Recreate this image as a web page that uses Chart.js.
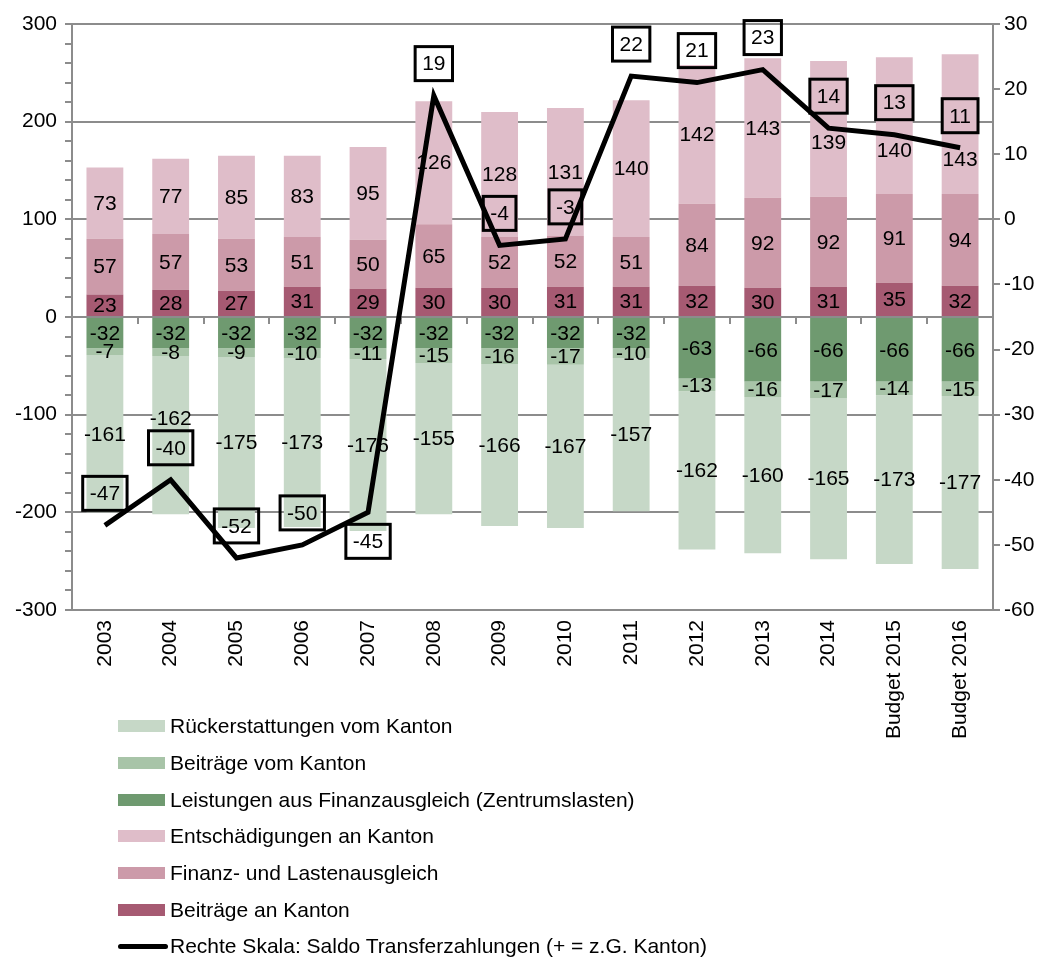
<!DOCTYPE html>
<html lang="de">

<head>
    <meta charset="UTF-8">
    <title>Transferzahlungen Kanton</title>
    <style>
        body {
            margin: 0;
            padding: 0;
            background-color: #fff;
            font-family: "Liberation Sans", Arial, sans-serif;
        }

        .wrap {
            position: relative;
            width: 1047px;
            height: 958px;
        }

        /* legend sits in the free space under the plot */
        .legend {
            position: absolute;
            left: 118px;
            top: 708px;
            font-size: 21px;
            color: #000;
        }

        .legend div {
            height: 36.7px;
            display: flex;
            align-items: center;
        }

        .legend span.sw {
            display: inline-block;
            width: 47px;
            height: 12px;
            margin-right: 5px;
        }

        .legend span.ln {
            display: inline-block;
            width: 50px;
            height: 5px;
            border-radius: 3px;
            background: #000;
            margin-right: 2px;
        }
    </style>
</head>

<body>
    <div class="wrap">
        <canvas id="transfers" width="1047" height="958"></canvas>
        <div class="legend" id="legend"></div>
    </div>

    <script src="https://cdn.jsdelivr.net/npm/chart.js"></script>
    <script>
        // categories
        const years = ['2003', '2004', '2005', '2006', '2007', '2008', '2009', '2010', '2011', '2012', '2013', '2014', 'Budget 2015', 'Budget 2016'];

        // payments to the canton (positive, left scale)
        const beitraegeAn = [23, 28, 27, 31, 29, 30, 30, 31, 31, 32, 30, 31, 35, 32];
        const finanzLasten = [57, 57, 53, 51, 50, 65, 52, 52, 51, 84, 92, 92, 91, 94];
        const entschaedigungen = [73, 77, 85, 83, 95, 126, 128, 131, 140, 142, 143, 139, 140, 143];

        // payments from the canton (negative, left scale)
        const leistungenFA = [-32, -32, -32, -32, -32, -32, -32, -32, -32, -63, -66, -66, -66, -66];
        const beitraegeVom = [-7, -8, -9, -10, -11, -15, -16, -17, -10, -13, -16, -17, -14, -15];
        const rueckerstattungen = [-161, -162, -175, -173, -176, -155, -166, -167, -157, -162, -160, -165, -173, -177];

        // balance (right scale)
        const saldo = [-47, -40, -52, -50, -45, 19, -4, -3, 22, 21, 23, 14, 13, 11];

        const leftTicks = { min: -300, max: 300 };
        const rightTicks = { min: -60, max: 30, step: 10 };

        const FONT = '"Liberation Sans", Arial, sans-serif';
        const FS = 21;
        const GRID = '#8c8c8c';

        const series = [
            { label: 'Beiträge an Kanton', data: beitraegeAn, color: '#a65a72' },
            { label: 'Finanz- und Lastenausgleich', data: finanzLasten, color: '#cc9aa9' },
            { label: 'Entschädigungen an Kanton', data: entschaedigungen, color: '#dfbdc9' },
            { label: 'Leistungen aus Finanzausgleich (Zentrumslasten)', data: leistungenFA, color: '#6f9a70' },
            { label: 'Beiträge vom Kanton', data: beitraegeVom, color: '#a8c4a8' },
            { label: 'Rückerstattungen vom Kanton', data: rueckerstattungen, color: '#c6d8c7' }
        ];

        const datasets = series.map(s => ({
            type: 'bar',
            label: s.label,
            data: s.data,
            backgroundColor: s.color,
            borderWidth: 0,
            yAxisID: 'y',
            order: 1,
            barPercentage: 0.56,
            categoryPercentage: 1.0
        }));

        datasets.push({
            type: 'line',
            label: 'Rechte Skala: Saldo Transferzahlungen (+ = z.G. Kanton)',
            data: saldo,
            borderColor: '#000',
            borderWidth: 5,
            pointRadius: 0,
            tension: 0,
            yAxisID: 'y1',
            order: 0
        });

        // boxed labels of the balance line: above the point, except where the line climbs steeply
        function lineBoxes(chart) {
            const ctx = chart.ctx;
            const meta = chart.getDatasetMeta(chart.data.datasets.length - 1);
            const below = new Set(['2007']);
            ctx.font = FS + 'px ' + FONT;
            return meta.data.map((pt, i) => {
                const txt = String(saldo[i]);
                const cy = below.has(years[i]) ? pt.y + 29 : pt.y - 32;
                const w = ctx.measureText(txt).width + 14;
                const h = 34;
                return { txt, x: pt.x, y: cy, l: pt.x - w / 2, r: pt.x + w / 2, t: cy - h / 2, b: cy + h / 2 };
            });
        }

        function hitsSegment(rect, a, b) {
            const n = Math.ceil(Math.hypot(b.x - a.x, b.y - a.y));
            for (let k = 0; k <= n; k++) {
                const px = a.x + (b.x - a.x) * k / n;
                const py = a.y + (b.y - a.y) * k / n;
                if (px >= rect.l && px <= rect.r && py >= rect.t && py <= rect.b) return true;
            }
            return false;
        }

        function isClear(rect, boxes, pts) {
            for (const bx of boxes) {
                if (rect.l < bx.r + 2 && rect.r > bx.l - 2 && rect.t < bx.b + 2 && rect.b > bx.t - 2) return false;
            }
            const grown = { l: rect.l - 3, r: rect.r + 3, t: rect.t - 3, b: rect.b + 3 };
            for (let i = 0; i < pts.length - 1; i++) {
                if (hitsSegment(grown, pts[i], pts[i + 1])) return false;
            }
            return true;
        }

        // value labels inside bars, zero line with category ticks, boxed labels on the line
        const labelsPlugin = {
            id: 'labelsPlugin',
            beforeDatasetDraw(chart, args) {
                if (args.meta.type !== 'line') return;
                const ctx = chart.ctx;
                const area = chart.chartArea;
                const y0 = chart.scales.y.getPixelForValue(0);
                ctx.save();
                ctx.strokeStyle = GRID;
                ctx.lineWidth = 2;
                ctx.beginPath();
                ctx.moveTo(area.left, y0);
                ctx.lineTo(area.right, y0);
                const step = (area.right - area.left) / years.length;
                for (let i = 1; i < years.length; i++) {
                    const px = Math.round(area.left + step * i);
                    ctx.moveTo(px, y0);
                    ctx.lineTo(px, y0 + 7);
                }
                ctx.stroke();

                // bar values, nudged off the line and its boxes where they collide
                const boxes = lineBoxes(chart);
                const pts = args.meta.data.map(p => ({ x: p.x, y: p.y }));
                ctx.font = FS + 'px ' + FONT;
                ctx.fillStyle = '#000';
                ctx.textAlign = 'center';
                ctx.textBaseline = 'middle';
                chart.data.datasets.forEach((ds, di) => {
                    const meta = chart.getDatasetMeta(di);
                    if (meta.type !== 'bar') return;
                    meta.data.forEach((bar, i) => {
                        const txt = String(ds.data[i]);
                        const w = ctx.measureText(txt).width;
                        const cy = (bar.y + bar.base) / 2 + 1;
                        const rectAt = y => ({ l: bar.x - w / 2, r: bar.x + w / 2, t: y - 9, b: y + 9 });
                        let best = cy;
                        for (let d = 0; d <= 60; d++) {
                            if (isClear(rectAt(cy + d), boxes, pts)) { best = cy + d; break; }
                            if (isClear(rectAt(cy - d), boxes, pts)) { best = cy - d; break; }
                        }
                        ctx.fillText(txt, bar.x, best);
                    });
                });
                ctx.restore();
            },
            afterDatasetsDraw(chart) {
                const ctx = chart.ctx;
                const boxes = lineBoxes(chart);
                ctx.save();
                ctx.font = FS + 'px ' + FONT;
                ctx.textAlign = 'center';
                ctx.textBaseline = 'middle';
                ctx.lineWidth = 3;
                ctx.strokeStyle = '#000';
                ctx.fillStyle = '#000';
                boxes.forEach(bx => {
                    ctx.strokeRect(bx.l, bx.t, bx.r - bx.l, bx.b - bx.t);
                    ctx.fillText(bx.txt, bx.x, bx.y + 1);
                });
                ctx.restore();
            }
        };

        new Chart(document.getElementById('transfers'), {
            data: { labels: years, datasets: datasets },
            options: {
                responsive: false,
                animation: false,
                layout: { padding: { top: 24, bottom: 218, left: 0, right: 0 } },
                plugins: {
                    legend: { display: false },
                    tooltip: { enabled: false }
                },
                scales: {
                    x: {
                        stacked: true,
                        grid: { display: false },
                        border: { display: false },
                        ticks: {
                            color: '#000',
                            font: { family: FONT, size: FS },
                            minRotation: 90,
                            maxRotation: 90,
                            autoSkip: false,
                            padding: 2
                        },
                        afterFit(scale) { scale.height = 130; }
                    },
                    y: {
                        stacked: true,
                        position: 'left',
                        min: leftTicks.min,
                        max: leftTicks.max,
                        grid: {
                            color: c => (c.tick && c.tick.value % 100 === 0 ? GRID : 'rgba(0,0,0,0)'),
                            tickColor: GRID,
                            lineWidth: 2,
                            tickLength: 7
                        },
                        border: { display: true, color: GRID, width: 2 },
                        ticks: {
                            stepSize: 20,
                            autoSkip: false,
                            color: '#000',
                            font: { family: FONT, size: FS },
                            padding: 8,
                            callback: v => (v % 100 === 0 ? v : '')
                        },
                        afterFit(scale) { scale.width = 72; }
                    },
                    y1: {
                        position: 'right',
                        min: rightTicks.min,
                        max: rightTicks.max,
                        grid: {
                            drawOnChartArea: false,
                            tickColor: GRID,
                            lineWidth: 2,
                            tickLength: 7
                        },
                        border: { display: true, color: GRID, width: 2 },
                        ticks: {
                            stepSize: rightTicks.step,
                            color: '#000',
                            font: { family: FONT, size: FS },
                            padding: 4
                        },
                        afterFit(scale) { scale.width = 54; }
                    }
                }
            },
            plugins: [labelsPlugin]
        });

        // legend, in the order of the printed key
        const legendOrder = [5, 4, 3, 2, 1, 0];
        const legend = document.getElementById('legend');
        legendOrder.forEach(i => {
            const row = document.createElement('div');
            row.innerHTML = '<span class="sw" style="background:' + series[i].color + '"></span>' + series[i].label;
            legend.appendChild(row);
        });
        const lineRow = document.createElement('div');
        lineRow.innerHTML = '<span class="ln"></span>' + datasets[datasets.length - 1].label;
        legend.appendChild(lineRow);
    </script>
</body>

</html>
